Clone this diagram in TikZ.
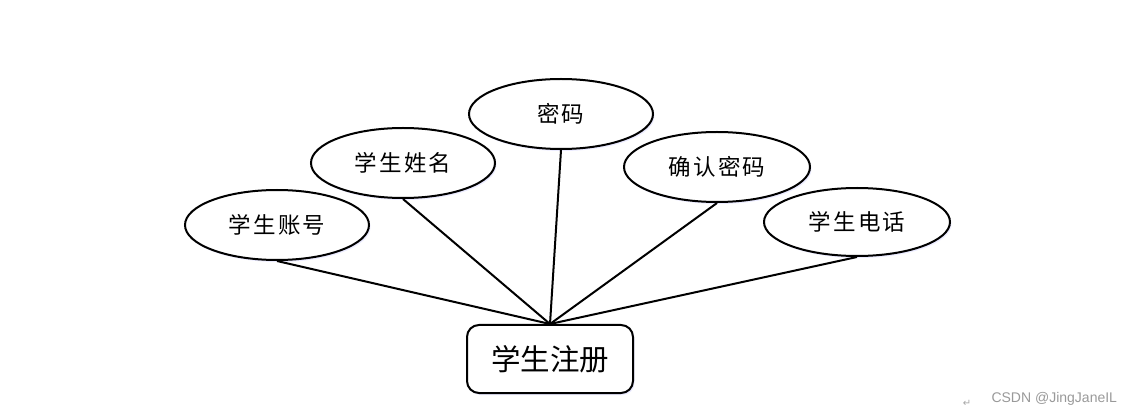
\documentclass[tikz,border=0pt]{standalone}
\usepackage{fontspec}
\newfontfamily\cjk{Noto Sans CJK SC}
\newfontfamily\cjksp[LetterSpace=9]{Noto Sans CJK SC}
\newfontfamily\wm{Liberation Sans}
\newfontfamily\sym{DejaVu Sans}
\usetikzlibrary{shapes.geometric,shadows}
\begin{document}
\begin{tikzpicture}[x=1pt,y=-1pt,
  attr/.style={ellipse,draw=black,line width=2pt,fill=white,minimum width=184pt,minimum height=70pt,inner sep=0pt,
    font=\cjksp\fontsize{22.5}{22.5}\selectfont,
    drop shadow={shadow xshift=1.5pt,shadow yshift=-2pt,fill=blue!8,opacity=1}},
  ent/.style={rectangle,rounded corners=12pt,draw=black,line width=2pt,fill=white,minimum width=166pt,minimum height=68pt,inner sep=0pt,
    font=\cjk\fontsize{29.5}{29.5}\selectfont,
    drop shadow={shadow xshift=1.5pt,shadow yshift=-2pt,fill=blue!8,opacity=1}},
  link/.style={line width=2pt,draw=black}]
\useasboundingbox (0,0) rectangle (1137,419);
\node[attr] (a1) at (277,225) {学生账号};
\node[attr] (a2) at (403,163) {学生姓名};
\node[attr] (a3) at (561,114) {密码};
\node[attr,minimum width=186pt] (a4) at (717,167) {确认密码};
\node[attr,minimum width=186pt,minimum height=68pt] (a5) at (857,222) {学生电话};
\node[ent] (r) at (550,359) {学生注册};
\foreach \n in {a1,a2,a3,a4,a5} \draw[link] (\n.south) -- (r.north);
\node[text=gray!70,font=\sym\fontsize{10}{10}\selectfont] (ret) at (967,403) {↵};
\node[text=gray!80,font=\wm\fontsize{14}{14}\selectfont,anchor=west] (mark) at (988,399) {CSDN @JingJaneIL};
\end{tikzpicture}
\end{document}
